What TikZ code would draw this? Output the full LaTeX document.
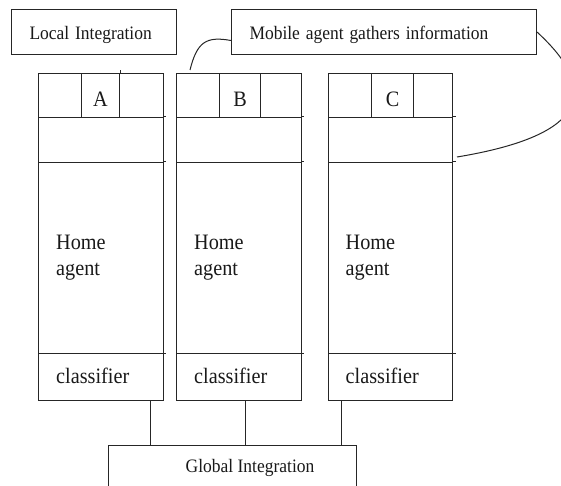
\documentclass[tikz,border=0pt]{standalone}
\usepackage{fontspec}
\usepackage{graphicx}
\setmainfont{Liberation Serif}
\newcommand{\sqz}[1]{\scalebox{0.92}[1]{#1}}
\begin{document}
\begin{tikzpicture}[x=1pt,y=-1pt,
  ln/.style={draw=black!85, line width=1pt},
  band/.style={ln, rectangle, inner sep=0pt, minimum width=124.5pt, anchor=north west},
  cellbox/.style={ln, rectangle, inner sep=0pt, minimum height=44pt, anchor=north west},
  txt/.style={text=black!90, font=\fontsize{22}{26}\selectfont, inner sep=0pt},
  smalltxt/.style={text=black!90, font=\fontsize{19}{22}\selectfont, inner sep=0pt},
  lbl/.style={ln, rectangle, inner xsep=18pt, inner ysep=0pt, align=left,
    text height=20pt, text depth=4pt,
    font=\fontsize{19}{22}\selectfont, text=black!90, minimum height=45pt, anchor=north west}]
\useasboundingbox (0,0) rectangle (561,486);
\clip (0,0) rectangle (561,486);

% top boxes
\node[lbl, text width=129pt] (local) at (11,9) {\sqz{Local Integration}};
\node[lbl, text width=269pt] (mob) at (231,9) {\sqz{Mobile agent gathers information}};

% columns
\foreach \n/\x/\p/\w in {A/38/43/38, B/176/43/41, C/327.5/43.5/42}{
  \node[band, minimum height=44pt] (hdr\n) at (\x,73) {};
  \node[band, minimum height=45pt] (mid\n) at (\x,117) {};
  \node[band, minimum height=191pt] (home\n) at (\x,162) {};
  \node[band, minimum height=47pt] (cls\n) at (\x,353) {};
  \node[cellbox, minimum width=\w pt] (cell\n) at ([xshift=\p pt]hdr\n.north west) {};
  \node[txt] (let\n) at ([yshift=-4pt]cell\n.center) {\sqz{\n}};
  \node[txt, anchor=west] (ha\n) at ([xshift=18pt]home\n.west) {\sqz{\parbox{70pt}{\raggedright Home\\agent}}};
  \node[txt, anchor=west] (ct\n) at ([xshift=18pt,yshift=1pt]cls\n.west) {\sqz{classifier}};
  \draw[ln] (mid\n.north east) -- ++(2.5,0);
  \draw[ln] (home\n.north east) -- ++(2.5,0);
  \draw[ln] (cls\n.north east) -- ++(2.5,0);
}
\draw[ln] (cellA.north east) -- ++(0,-3);

% global integration
\node[ln, rectangle, inner sep=0pt, minimum width=248pt, minimum height=70pt, anchor=north west] (glob) at (108,445) {};
\node[smalltxt] (gt) at (250,468) {\sqz{Global Integration}};

\coordinate (ca) at ([xshift=-13.5pt]clsA.south east);
\coordinate (cb) at ([xshift=69pt]clsB.south west);
\coordinate (cc) at ([xshift=13.5pt]clsC.south west);
\draw[ln] (ca) -- (ca |- glob.north);
\draw[ln] (cb) -- (cb |- glob.north);
\draw[ln] (cc) -- (cc |- glob.north);

% mobile agent curves
\coordinate (lc) at (190,70);
\coordinate (rc) at (457,157);
\draw[ln] (lc) .. controls (197,42) and (206,36) .. ([yshift=-8.5pt]mob.west);
\draw[ln] (mob.east) .. controls (600,90) and (590,135) .. (rc);
\end{tikzpicture}
\end{document}
